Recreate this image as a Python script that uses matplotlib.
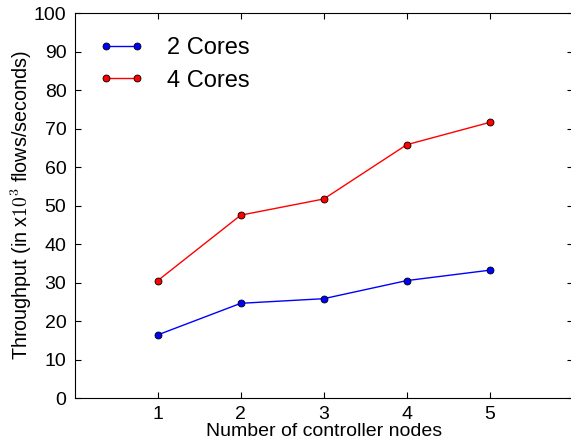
import matplotlib
matplotlib.use("Agg")
import matplotlib.pyplot as plt

nodes = [1, 2, 3, 4, 5]
cores2 = [16.4, 24.6, 25.8, 30.5, 33.2]
cores4 = [30.5, 47.5, 51.7, 65.8, 71.6]
xticks = [1, 2, 3, 4, 5]
yticks = [0, 10, 20, 30, 40, 50, 60, 70, 80, 90, 100]

plt.rcParams['font.family'] = ['Liberation Sans', 'DejaVu Sans']
plt.rcParams['mathtext.fontset'] = 'cm'

fig = plt.figure(figsize=(5.71, 4.44), dpi=100)
ax = fig.add_axes([0.131, 0.1036, 0.872, 0.867])
ax.plot(nodes, cores2, '-o', color='blue', lw=1, ms=5, mec='black', mew=0.6, label='2 Cores')
ax.plot(nodes, cores4, '-o', color='red', lw=1, ms=5, mec='black', mew=0.6, label='4 Cores')
ax.set_xlim(0, 6)
ax.set_ylim(0, 100)
ax.set_xticks(xticks)
ax.set_yticks(yticks)
ax.tick_params(direction='in', top=True, right=True, labelsize=14, length=4, pad=6)
ax.set_xlabel('Number of controller nodes', fontsize=14, labelpad=0)
ax.set_ylabel('Throughput (in x$10^3$ flows/seconds)', fontsize=14.2, labelpad=0)
ax.legend(loc='upper left', frameon=False, numpoints=2, fontsize=17, handlelength=1.9,
          handletextpad=1.0, borderaxespad=0.62, labelspacing=0.45)
fig.savefig('out.png', dpi=100)
